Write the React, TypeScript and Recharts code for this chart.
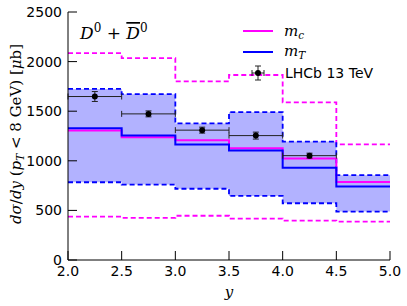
import { ComposedChart, Line, Area, Scatter, ErrorBar, XAxis, YAxis } from "recharts";

// bin edges in rapidity y
const edges = [2.0, 2.5, 3.0, 3.5, 4.0, 4.5, 5.0];
// m_c scale choice (magenta)
const mcCentral = [1305, 1238, 1206, 1127, 1024, 787];
const mcUpper = [2085, 2035, 1800, 1865, 1588, 1165];
const mcLower = [437, 424, 446, 418, 397, 387];
// m_T scale choice (blue)
const mtCentral = [1329, 1254, 1164, 1103, 931, 742];
const mtUpper = [1725, 1672, 1377, 1490, 1194, 855];
const mtLower = [784, 760, 718, 646, 572, 488];
// LHCb 13 TeV data
const lhcbY = [2.25, 2.75, 3.25, 3.75, 4.25];
const lhcbVal = [1648, 1473, 1309, 1254, 1052];
const lhcbErr = [50, 30, 30, 35, 25];
const lhcbHalfWidth = [0.25, 0.25, 0.25, 0.25, 0.25];

const xTicks = [2.0, 2.5, 3.0, 3.5, 4.0, 4.5, 5.0];
const yTicks = [0, 500, 1000, 1500, 2000, 2500];

const MAGENTA = "#ff00ff";
const BLUE = "#0000ff";

const steps = edges.map((x, i) => {
  const k = Math.min(i, mcCentral.length - 1);
  return {
    x,
    mcC: mcCentral[k],
    mcU: mcUpper[k],
    mcL: mcLower[k],
    mtC: mtCentral[k],
    mtU: mtUpper[k],
    mtL: mtLower[k],
  };
});

const points = lhcbY.map((x, i) => ({ x, y: lhcbVal[i], ey: lhcbErr[i], ex: lhcbHalfWidth[i] }));

const tickFont = { fontFamily: "DejaVu Sans", fontSize: 14, fill: "#000" };
const serif = "DejaVu Serif";

export default function App() {
  return (
    <div style={{ position: "absolute", left: 0, top: 0, width: 407, height: 306, background: "#fff" }}>
      <ComposedChart width={407} height={306} margin={{ top: 12, right: 17, bottom: 16, left: 8 }}>
        <XAxis
          xAxisId={0}
          type="number"
          dataKey="x"
          domain={[2, 5]}
          ticks={xTicks}
          allowDataOverflow
          height={30}
          tickSize={-9}
          tickMargin={15}
          tick={tickFont}
          tickFormatter={(v: number) => v.toFixed(1)}
          stroke="#000"
          axisLine={{ stroke: "#000" }}
          tickLine={{ stroke: "#000" }}
        />
        <XAxis
          xAxisId="top"
          orientation="top"
          type="number"
          dataKey="x"
          domain={[2, 5]}
          ticks={xTicks}
          allowDataOverflow
          height={0}
          tickSize={-9}
          tickFormatter={() => ""}
          axisLine={{ stroke: "#000" }}
          tickLine={{ stroke: "#000" }}
        />
        <YAxis
          yAxisId={0}
          type="number"
          domain={[0, 2500]}
          ticks={yTicks}
          allowDataOverflow
          width={60}
          tickSize={-9}
          tickMargin={15}
          tick={tickFont}
          axisLine={{ stroke: "#000" }}
          tickLine={{ stroke: "#000" }}
        />
        <YAxis
          yAxisId="r"
          orientation="right"
          type="number"
          domain={[0, 2500]}
          ticks={yTicks}
          allowDataOverflow
          width={0}
          tickSize={-9}
          tickFormatter={() => ""}
          axisLine={{ stroke: "#000" }}
          tickLine={{ stroke: "#000" }}
        />

        <Area
          data={steps}
          type="stepAfter"
          dataKey={(d: any) => [d.mtL, d.mtU]}
          fill={BLUE}
          fillOpacity={0.3}
          stroke="none"
          isAnimationActive={false}
        />
        <Line data={steps} type="stepAfter" dataKey="mcU" stroke={MAGENTA} strokeWidth={1.8} strokeDasharray="5 3" dot={false} activeDot={false} isAnimationActive={false} />
        <Line data={steps} type="stepAfter" dataKey="mcL" stroke={MAGENTA} strokeWidth={1.8} strokeDasharray="5 3" dot={false} activeDot={false} isAnimationActive={false} />
        <Line data={steps} type="stepAfter" dataKey="mtU" stroke={BLUE} strokeWidth={1.8} strokeDasharray="5 3" dot={false} activeDot={false} isAnimationActive={false} />
        <Line data={steps} type="stepAfter" dataKey="mtL" stroke={BLUE} strokeWidth={1.8} strokeDasharray="5 3" dot={false} activeDot={false} isAnimationActive={false} />
        <Line data={steps} type="stepAfter" dataKey="mcC" stroke={MAGENTA} strokeWidth={2} dot={false} activeDot={false} isAnimationActive={false} />
        <Line data={steps} type="stepAfter" dataKey="mtC" stroke={BLUE} strokeWidth={2} dot={false} activeDot={false} isAnimationActive={false} />

        <Scatter
          data={points}
          dataKey="y"
          isAnimationActive={false}
          shape={(p: any) => <circle cx={p.cx} cy={p.cy} r={3} fill="#000" />}
        >
          <ErrorBar dataKey="ex" direction="x" width={3} stroke="#222" strokeWidth={1} isAnimationActive={false} />
          <ErrorBar dataKey="ey" direction="y" width={3} stroke="#222" strokeWidth={1} isAnimationActive={false} />
        </Scatter>
      </ComposedChart>

      <svg width={407} height={306} style={{ position: "absolute", left: 0, top: 0, pointerEvents: "none" }}>
        {/* y-axis label */}
        <text transform="translate(21,134) rotate(-90)" textAnchor="middle" fontFamily={serif} fontSize={15} fill="#000">
          <tspan fontStyle="italic">dσ</tspan>
          <tspan>/</tspan>
          <tspan fontStyle="italic">dy</tspan>
          <tspan> (</tspan>
          <tspan fontStyle="italic">p</tspan>
          <tspan fontStyle="italic" fontSize={10.5} dy={3}>T</tspan>
          <tspan dy={-3}> &lt; 8 GeV) [</tspan>
          <tspan fontStyle="italic">μ</tspan>
          <tspan>b]</tspan>
        </text>
        {/* x-axis label */}
        <text x={229} y={297} textAnchor="middle" fontFamily={serif} fontStyle="italic" fontSize={15} fill="#000">y</text>

        {/* title */}
        <text x={80} y={39} fontFamily={serif} fontSize={17} fill="#000">
          <tspan fontStyle="italic">D</tspan>
          <tspan fontSize={12} dy={-7}>0</tspan>
          <tspan dy={7}> + </tspan>
          <tspan fontStyle="italic" textDecoration="overline">D</tspan>
          <tspan fontSize={12} dy={-7}>0</tspan>
        </text>

        {/* legend */}
        <line x1={243} x2={273} y1={31} y2={31} stroke={MAGENTA} strokeWidth={2} />
        <text x={284} y={36} fontFamily={serif} fontSize={15} fill="#000">
          <tspan fontStyle="italic">m</tspan>
          <tspan fontStyle="italic" fontSize={10.5} dy={3}>c</tspan>
        </text>
        <line x1={243} x2={273} y1={52} y2={52} stroke={BLUE} strokeWidth={2} />
        <text x={284} y={56} fontFamily={serif} fontSize={15} fill="#000">
          <tspan fontStyle="italic">m</tspan>
          <tspan fontStyle="italic" fontSize={10.5} dy={3}>T</tspan>
        </text>
        <g stroke="#222" strokeWidth={1}>
          <line x1={252} x2={264} y1={73} y2={73} />
          <line x1={258} x2={258} y1={66} y2={80} />
          <line x1={255} x2={261} y1={66} y2={66} />
          <line x1={255} x2={261} y1={80} y2={80} />
          <line x1={252} x2={252} y1={70} y2={76} />
          <line x1={264} x2={264} y1={70} y2={76} />
        </g>
        <circle cx={258} cy={73} r={3} fill="#000" />
        <text x={285} y={78} fontFamily="DejaVu Sans" fontSize={14} fill="#000">LHCb 13 TeV</text>
      </svg>
    </div>
  );
}
